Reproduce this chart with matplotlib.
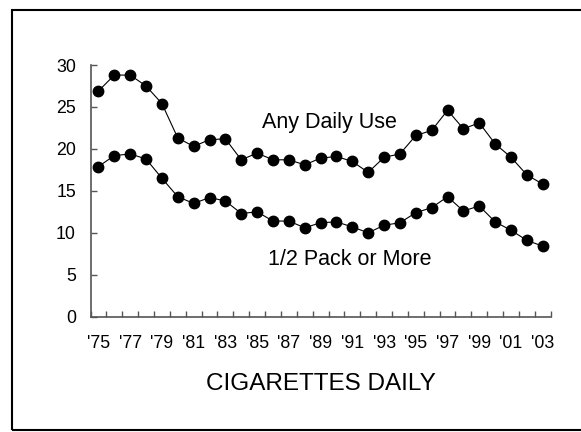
import matplotlib.pyplot as plt
from matplotlib.patches import Rectangle
from matplotlib.ticker import FixedLocator, NullFormatter

plt.rcParams["font.family"] = ["Liberation Sans", "DejaVu Sans"]

years = list(range(1975, 2004))
year_labels = ["'" + str(y)[2:] for y in years]

any_daily = [26.9, 28.8, 28.8, 27.5, 25.4, 21.3, 20.3, 21.1, 21.2, 18.7,
             19.5, 18.7, 18.7, 18.1, 18.9, 19.1, 18.5, 17.2, 19.0, 19.4,
             21.6, 22.2, 24.6, 22.4, 23.1, 20.6, 19.0, 16.9, 15.8]
half_pack = [17.9, 19.2, 19.4, 18.8, 16.5, 14.3, 13.5, 14.2, 13.8, 12.3,
             12.5, 11.4, 11.4, 10.6, 11.2, 11.3, 10.7, 10.0, 10.9, 11.2,
             12.4, 13.0, 14.3, 12.6, 13.2, 11.3, 10.3, 9.1, 8.4]


def main():
    W, H = 581, 432
    fig = plt.figure(figsize=(W / 100, H / 100), dpi=100)

    # outer frame
    fig.patches.append(Rectangle((12 / W, 2 / H), 1.0, 420 / H, transform=fig.transFigure,
                                 fill=False, edgecolor="black", linewidth=1.5))

    ax = fig.add_axes([90.5 / W, 1 - 316.7 / H, 460.2 / W, 251.7 / H])
    x = list(range(len(years)))

    for series in (any_daily, half_pack):
        ax.plot(x, series, color="black", linewidth=0.8, marker="o",
                markersize=7.5, markerfacecolor="black", markeredgecolor="black")

    ax.set_xlim(-0.5, len(years) - 0.5)
    ax.set_ylim(0, 30)
    ax.set_yticks(range(0, 31, 5))

    # tick marks sit between categories, labels every other year
    ax.xaxis.set_major_locator(FixedLocator([i - 0.5 for i in range(len(years) + 1)]))
    ax.xaxis.set_major_formatter(NullFormatter())
    ax.xaxis.set_minor_locator(FixedLocator(x[::2]))
    ax.set_xticklabels(year_labels[::2], minor=True)

    ax.tick_params(axis="x", which="major", direction="in", length=4, width=1, color="#555555")
    ax.tick_params(axis="x", which="minor", length=0, pad=13.5, labelsize=12.8)
    ax.tick_params(axis="y", direction="in", length=4, width=1, color="#555555",
                   pad=10.5, labelsize=12.8)

    for side in ("top", "right"):
        ax.spines[side].set_visible(False)
    for side in ("left", "bottom"):
        ax.spines[side].set_color("#555555")
        ax.spines[side].set_linewidth(1.2)

    ax.text(14.53, 22.45, "Any Daily Use", fontsize=15.5, ha="center", va="baseline")
    ax.text(15.85, 6.16, "1/2 Pack or More", fontsize=15.5, ha="center", va="baseline")

    fig.text(320.6 / W, 1 - 390 / H, "CIGARETTES DAILY", fontsize=17.5,
             ha="center", va="baseline")

    fig.savefig("out.png", dpi=100)
    plt.close(fig)


if __name__ == "__main__":
    main()
